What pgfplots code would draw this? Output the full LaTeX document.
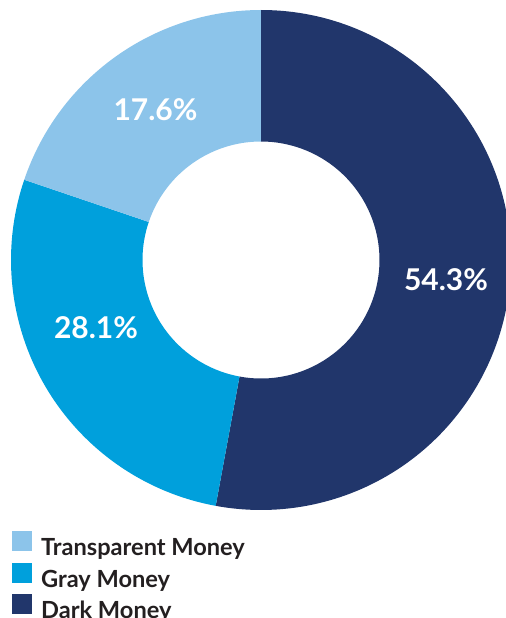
\documentclass[border=0pt]{standalone}
\usepackage{fontspec}
\setmainfont{Lato}
\usepackage{pgfplots}
\usepackage{pgfplotstable}
\pgfplotsset{compat=1.18}

\definecolor{darkm}{HTML}{21366B}
\definecolor{graym}{HTML}{00A0DC}
\definecolor{transm}{HTML}{8CC4EA}
\definecolor{legtext}{HTML}{231F20}

% value = printed label, share = slice size as drawn (clockwise from 12 o'clock)
% labx/laby = label baseline position in axis units
\pgfplotstableread{
value share labx laby col
54.3 52.9 446 327 darkm
28.1 27.3 96 279 graym
17.6 19.8 155.5 497 transm
}\slices

\begin{document}
\begin{tikzpicture}
\begin{axis}[
    name=ax,
    scale only axis,
    width=253pt, height=309pt,
    xmin=0, xmax=506, ymin=0, ymax=618,
    hide axis,
    legend style={
        at={(rel axis cs:0.0237,0.1408)}, anchor=north west,
        draw=none, fill=none, inner sep=0pt,
        font=\bfseries\fontsize{11.8}{13}\selectfont,
        text=legtext,
        row sep=1.9pt,
        nodes={inner sep=0pt, outer sep=0pt},
    },
    legend cell align=left,
    legend image code/.code={
        \fill[#1] (0pt,-1.0pt) rectangle (9.5pt,8.5pt);
    },
]
\addlegendimage{transm}
\addlegendentry{\hspace{4.5pt}Transparent Money}
\addlegendimage{graym}
\addlegendentry{\hspace{4.5pt}Gray Money}
\addlegendimage{darkm}
\addlegendentry{\hspace{4.5pt}Dark Money}

\pgfplotstablegetrowsof{\slices}
\pgfmathtruncatemacro\nrows{\pgfplotsretval-1}
\def\angstart{90}
\pgfplotsforeachungrouped \i in {0,...,\nrows}{
    \pgfplotstablegetelem{\i}{value}\of\slices \let\val\pgfplotsretval
    \pgfplotstablegetelem{\i}{share}\of\slices \let\shr\pgfplotsretval
    \pgfplotstablegetelem{\i}{labx}\of\slices \let\lx\pgfplotsretval
    \pgfplotstablegetelem{\i}{laby}\of\slices \let\ly\pgfplotsretval
    \pgfplotstablegetelem{\i}{col}\of\slices \let\col\pgfplotsretval
    \pgfmathsetmacro\angend{\angstart-3.6*\shr}
    \edef\temp{\noexpand\fill[\col]
        ([shift={(\angstart:125pt)}]axis cs:261,358)
        arc[start angle=\angstart, end angle=\angend, radius=125pt]
        -- ([shift={(\angend:59.25pt)}]axis cs:261,358)
        arc[start angle=\angend, end angle=\angstart, radius=59.25pt]
        -- cycle;}
    \temp
    \edef\temp{\noexpand\node[white, anchor=base, inner sep=0pt,
        font=\noexpand\bfseries\noexpand\fontsize{15}{18}\noexpand\selectfont]
        at (axis cs:\lx,\ly) {\val\noexpand\%};}
    \temp
    \global\let\angstart\angend
}
\end{axis}
\pgfresetboundingbox
\path (ax.south west) rectangle (ax.north east);
\end{tikzpicture}
\end{document}
